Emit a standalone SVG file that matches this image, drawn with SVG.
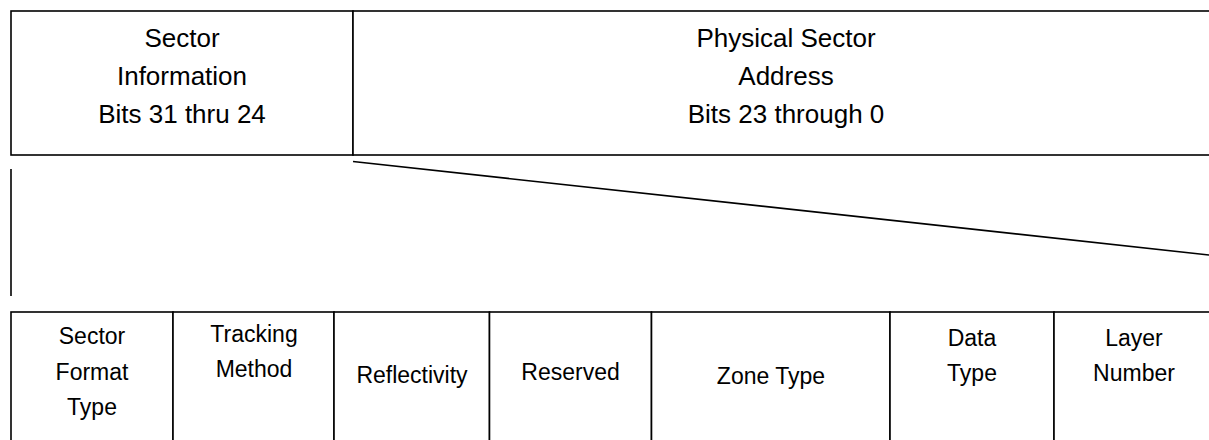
<svg xmlns="http://www.w3.org/2000/svg" width="1209" height="440" viewBox="0 0 1209 440">
<style>
.box{fill:#fff;stroke:#000;stroke-width:1.6}
.ln{fill:none;stroke:#000;stroke-width:1.6}
.t1{font-family:"Liberation Sans",Arial,sans-serif;font-size:26px;fill:#000;text-anchor:middle}
.t2{font-family:"Liberation Sans",Arial,sans-serif;font-size:23px;fill:#000;text-anchor:middle}
</style>
<rect width="1209" height="440" fill="#fff"/>
<g id="sector-information">
<rect class="box" x="11" y="11" width="342" height="144"/>
<text class="t1" x="182" y="47">Sector</text>
<text class="t1" x="182" y="85">Information</text>
<text class="t1" x="182" y="123">Bits 31 thru 24</text>
</g>
<g id="physical-sector-address">
<rect class="box" x="353" y="11" width="880" height="144"/>
<text class="t1" x="786" y="47">Physical Sector</text>
<text class="t1" x="786" y="85">Address</text>
<text class="t1" x="786" y="123">Bits 23 through 0</text>
</g>
<g id="connectors">
<line class="ln" x1="11" y1="169" x2="11" y2="296"/>
<line class="ln" x1="353" y1="161.5" x2="1209" y2="255"/>
</g>
<g id="sector-format-type">
<rect class="box" x="11" y="312" width="162" height="140"/>
<text class="t2" x="92" y="344">Sector</text>
<text class="t2" x="92" y="380">Format</text>
<text class="t2" x="92" y="415">Type</text>
</g>
<g id="tracking-method">
<rect class="box" x="173" y="312" width="161" height="140"/>
<text class="t2" x="254" y="342">Tracking</text>
<text class="t2" x="254" y="377">Method</text>
</g>
<g id="reflectivity">
<rect class="box" x="334" y="312" width="155.5" height="140"/>
<text class="t2" x="412" y="383">Reflectivity</text>
</g>
<g id="reserved">
<rect class="box" x="489.5" y="312" width="162" height="140"/>
<text class="t2" x="570.5" y="380">Reserved</text>
</g>
<g id="zone-type">
<rect class="box" x="651.5" y="312" width="238.5" height="140"/>
<text class="t2" x="771" y="384">Zone Type</text>
</g>
<g id="data-type">
<rect class="box" x="890" y="312" width="164" height="140"/>
<text class="t2" x="972" y="346">Data</text>
<text class="t2" x="972" y="381">Type</text>
</g>
<g id="layer-number">
<rect class="box" x="1054" y="312" width="180" height="140"/>
<text class="t2" x="1134" y="346">Layer</text>
<text class="t2" x="1134" y="381">Number</text>
</g>
</svg>
